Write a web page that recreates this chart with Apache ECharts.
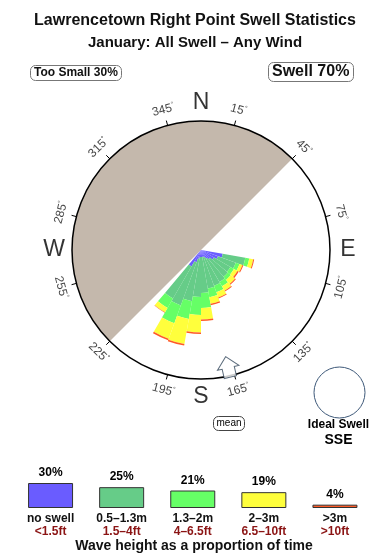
<!DOCTYPE html>
<html><head><meta charset="utf-8">
<script src="https://cdn.jsdelivr.net/npm/echarts@6/dist/echarts.min.js"></script>
<style>html,body{margin:0;padding:0;background:#fff}#c{width:390px;height:560px}</style>
</head><body><div id="c"></div>
<script>
// ---------- data ----------
const titleLine1 = 'Lawrencetown Right Point Swell Statistics';
const titleLine2 = 'January: All Swell \u2013 Any Wind';
const tooSmallPct = 30;
const swellPct = 70;
const idealSwell = 'SSE';
const meanDir = 167;            // degrees (bearing)
const landFrom = 225;           // land sector from 225 deg clockwise to 45 deg
const landTo = 45;

// direction bins (start bearing of each 10 deg wedge)
const binStarts = [100, 110, 120, 130, 140, 150, 160, 170, 180, 190, 200, 210];
// stacked radial lengths per wave-height class (same scale as compass radius = 129)
const noSwell = [22, 18, 15, 12, 10, 8, 7, 7, 7, 9, 13, 19];
const h05to13 = [23, 19, 19, 23, 27, 30, 32, 36, 40, 43, 46, 37];
const h13to2  = [4, 4, 4, 4, 5, 7, 9, 15, 18, 18, 19, 11];
const h2to3   = [4, 3, 4, 5.5, 5, 5.5, 6.5, 11.5, 17.5, 25.5, 16.5, 5];
const h3plus  = [1, 1, 1.5, 1, 1, 1, 1.5, 1.5, 1.5, 1.5, 1.5, 0.5];

const degreeTicks = [15, 45, 75, 105, 135, 165, 195, 225, 255, 285, 315, 345];
const compassLetters = ['N', 'E', 'S', 'W'];
const compassBearings = [0, 90, 180, 270];

const legendCats = ['no swell', '0.5\u20131.3m', '1.3\u20132m', '2\u20133m', '>3m'];
const legendFt = ['<1.5ft', '1.5\u20134ft', '4\u20136.5ft', '6.5\u201310ft', '>10ft'];
const legendPct = [30, 25, 21, 19, 4];

// ---------- styling ----------
const colors = ['#6a5cff', '#66cc88', '#66ff66', '#ffff3c', '#ff5a26'];
const FONT = '"Liberation Sans", Arial, sans-serif';
const CX = 201, CY = 250, R = 129;

const binLabels = [];
for (let i = 0; i < 36; i++) binLabels.push(String(i * 10));
function toBins(vals) {
  const arr = new Array(36).fill(0);
  binStarts.forEach((b, i) => { arr[b / 10] = vals[i]; });
  return arr;
}
const layers = [noSwell, h05to13, h13to2, h2to3, h3plus];

function labelRotate(b) {
  if (b > 90 && b < 270) return 180 - b;
  let r = -b;
  if (r < -90) r += 360;
  return r;
}

const roseSeries = layers.map((vals, k) => ({
  type: 'bar', coordinateSystem: 'polar', polarIndex: 0, stack: 'rose',
  data: toBins(vals), barCategoryGap: '0%', silent: true, z: 3,
  itemStyle: { color: colors[k] }
}));

const seaSpan = ((landFrom - landTo) + 360) % 360;

const option = {
  animation: false,
  textStyle: { fontFamily: FONT },
  title: [
    { text: titleLine1, left: 'center', top: 8, textStyle: { fontSize: 16, fontWeight: 'bold', color: '#111', fontFamily: FONT } },
    { text: titleLine2, left: 'center', top: 30, textStyle: { fontSize: 15, fontWeight: 'bold', color: '#111', fontFamily: FONT } },
    { text: 'Too Small ' + tooSmallPct + '%', left: 30, top: 65, padding: [2, 4], borderWidth: 1, borderColor: '#777', borderRadius: 5,
      textStyle: { fontSize: 12, fontWeight: 'bold', color: '#111', fontFamily: FONT } },
    { text: 'Swell ' + swellPct + '%', left: 268, top: 62, padding: [2, 4], borderWidth: 1, borderColor: '#777', borderRadius: 5,
      textStyle: { fontSize: 16, fontWeight: 'bold', color: '#111', fontFamily: FONT } }
  ],
  polar: [
    { center: [CX, CY], radius: R },
    { center: [CX, CY], radius: R },
    { center: [CX, CY], radius: 160 }
  ],
  angleAxis: [
    { polarIndex: 0, type: 'category', data: binLabels, startAngle: 90, clockwise: true, boundaryGap: true,
      axisLine: { show: false }, axisTick: { show: false }, axisLabel: { show: false }, splitLine: { show: false } },
    { polarIndex: 1, type: 'category', data: degreeTicks.map(d => d + '\u00b0'), startAngle: 90, clockwise: true, boundaryGap: true, z: 5,
      axisLine: { show: true, lineStyle: { color: '#000', width: 1.5 } },
      axisTick: { show: true, alignWithLabel: true, length: 5, lineStyle: { color: '#000', width: 1 } },
      axisLabel: { show: false }, splitLine: { show: false } },
    { polarIndex: 2, type: 'value', min: 0, max: 360, startAngle: 90, clockwise: true, show: false }
  ],
  radiusAxis: [
    { polarIndex: 0, type: 'value', min: 0, max: R, show: false },
    { polarIndex: 1, type: 'value', min: 0, max: R, show: false },
    { polarIndex: 2, type: 'value', min: 0, max: 160, show: false }
  ],
  grid: { left: 15, width: 355.5, top: 483, height: 25 },
  xAxis: {
    type: 'category', data: legendCats,
    axisLine: { show: false }, axisTick: { show: false },
    axisLabel: {
      interval: 0, margin: 4,
      formatter: (v, i) => '{a|' + v + '}\n{b|' + legendFt[i] + '}',
      rich: {
        a: { fontSize: 12, fontWeight: 'bold', color: '#111', lineHeight: 13, fontFamily: FONT },
        b: { fontSize: 12, fontWeight: 'bold', color: '#8b1414', lineHeight: 13, fontFamily: FONT }
      }
    }
  },
  yAxis: { type: 'value', min: 0, max: 30, show: false },
  series: [
    { type: 'pie', center: [CX, CY], radius: R, startAngle: 90 - landTo, clockwise: true, silent: true, z: 1,
      label: { show: false }, labelLine: { show: false },
      data: [
        { value: seaSpan, itemStyle: { color: 'rgba(0,0,0,0)' } },
        { value: 360 - seaSpan, itemStyle: { color: '#c4b8ac' } }
      ] },
    ...roseSeries,
    { type: 'scatter', coordinateSystem: 'polar', polarIndex: 2, symbolSize: 0, silent: true, z: 6,
      data: degreeTicks.map(d => ({ name: String(d), value: [145, d], label: { rotate: labelRotate(d) } })),
      label: { show: true, position: 'inside', formatter: p => '{n|' + p.name + '}{d|\u00b0}',
        rich: {
          n: { fontSize: 12, color: '#111', fontFamily: FONT },
          d: { fontSize: 7, color: '#111', fontFamily: FONT, verticalAlign: 'top', padding: [0, 0, 6, 0] }
        } } },
    { type: 'scatter', coordinateSystem: 'polar', polarIndex: 2, symbolSize: 0, silent: true, z: 6,
      data: compassLetters.map((n, i) => ({ name: n, value: [147, compassBearings[i]] })),
      label: { show: true, position: 'inside', formatter: '{b}', fontSize: 23, color: '#000', fontFamily: FONT } },
    { type: 'scatter', coordinateSystem: 'polar', polarIndex: 2, silent: true, z: 7,
      symbol: 'path://M11.5,0 L23,12 L18,12 L18,22 L5,22 L5,12 L0,12 Z',
      symbolSize: [22, 21], symbolRotate: 180 - meanDir,
      itemStyle: { color: '#fff', borderColor: '#33475b', borderWidth: 1 },
      data: [[120, meanDir]] },
    { type: 'bar', data: legendPct.map((v, i) => ({ value: v, itemStyle: { color: colors[i] } })),
      barWidth: 45, silent: true,
      itemStyle: { borderColor: '#333', borderWidth: 1 },
      label: { show: true, position: 'top', distance: 4, formatter: '{c}%', fontSize: 12, fontWeight: 'bold', color: '#000', fontFamily: FONT } }
  ],
  graphic: [
    { type: 'rect', shape: { x: 213.5, y: 416.5, width: 31, height: 14, r: 5 }, style: { fill: '#fff', stroke: '#444', lineWidth: 1 } },
    { type: 'text', x: 229, y: 423.5, style: { text: 'mean', font: '10px ' + FONT, fill: '#000', align: 'center', verticalAlign: 'middle', textAlign: 'center', textVerticalAlign: 'middle' } },
    { type: 'circle', shape: { cx: 339.5, cy: 392.5, r: 25.5 }, style: { fill: '#fff', stroke: '#3d5878', lineWidth: 1 } },
    { type: 'text', x: 338.5, y: 425, style: { text: 'Ideal Swell', font: 'bold 12px ' + FONT, fill: '#000', align: 'center', verticalAlign: 'middle', textAlign: 'center', textVerticalAlign: 'middle' } },
    { type: 'text', x: 338.5, y: 440, style: { text: idealSwell, font: 'bold 14px ' + FONT, fill: '#000', align: 'center', verticalAlign: 'middle', textAlign: 'center', textVerticalAlign: 'middle' } },
    { type: 'text', x: 194, y: 546, style: { text: 'Wave height as a proportion of time', font: 'bold 14px ' + FONT, fill: '#111', align: 'center', verticalAlign: 'middle', textAlign: 'center', textVerticalAlign: 'middle' } }
  ]
};

const chart = echarts.init(document.getElementById('c'), null, { renderer: 'canvas' });
chart.setOption(option);
</script>
</body></html>
